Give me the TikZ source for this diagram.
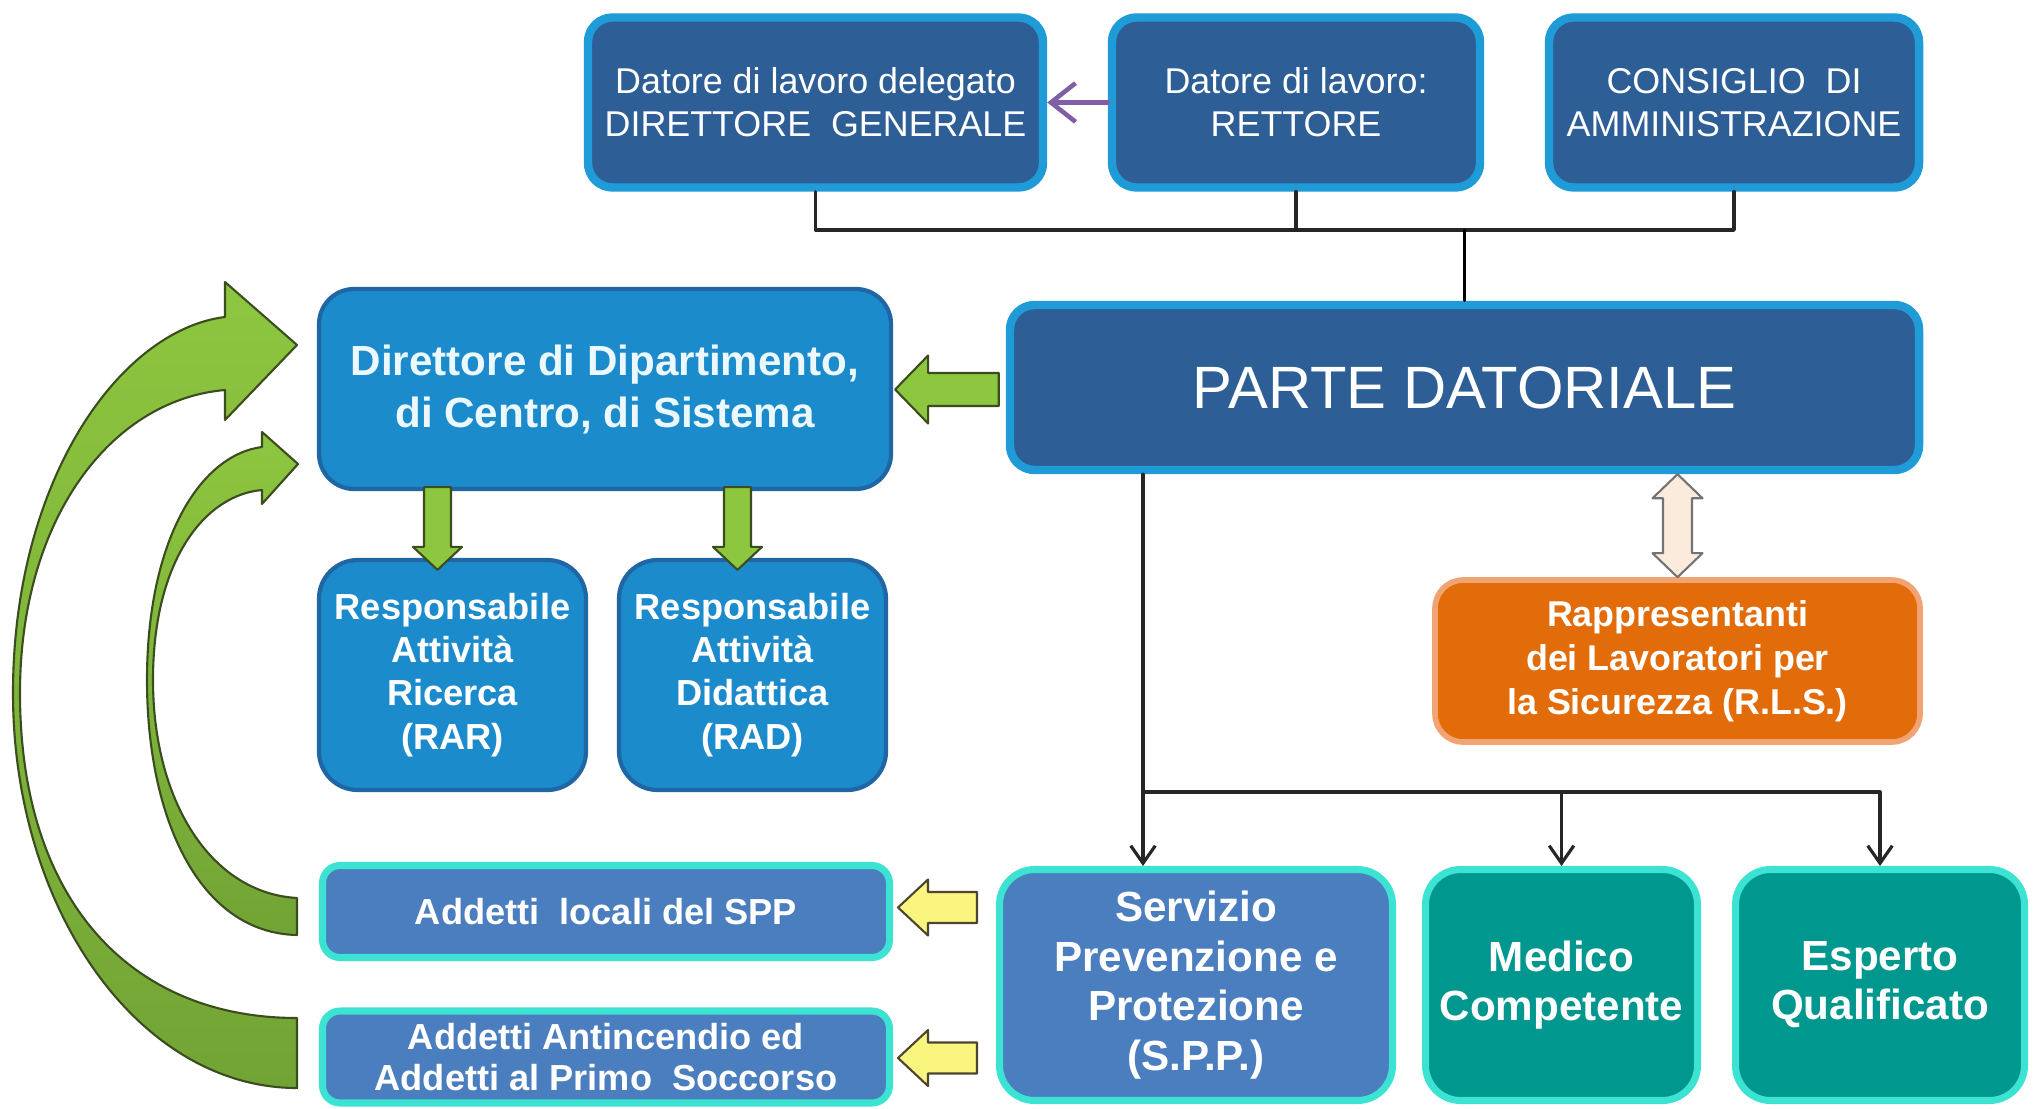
\documentclass[tikz,border=0pt]{standalone}
\usepackage{fontspec}
\setmainfont{Liberation Sans}
\usepackage{tikz}
\usetikzlibrary{calc}
\usetikzlibrary{arrows.meta}
\usetikzlibrary{positioning}

\definecolor{darkbox}{HTML}{2E5E96}
\definecolor{darkrim}{HTML}{1F9BD7}
\definecolor{midbox}{HTML}{1C8BCC}
\definecolor{midrim}{HTML}{2166A4}
\definecolor{sppfill}{HTML}{4A7EBF}
\definecolor{aquarim}{HTML}{3CE2D2}
\definecolor{tealfill}{HTML}{00978F}
\definecolor{rlsfill}{HTML}{E36C0A}
\definecolor{rlsrim}{HTML}{F2A373}
\definecolor{leafgreen}{HTML}{8DC63F}
\definecolor{leafdark}{HTML}{72A435}
\definecolor{leafline}{HTML}{3B4D1F}
\definecolor{paleyellow}{HTML}{FAF57E}
\definecolor{yellowline}{HTML}{4D4530}
\definecolor{peach}{HTML}{FBEBDD}
\definecolor{lilac}{HTML}{7E5FA6}

\begin{document}
\begin{tikzpicture}[line cap=round, line join=round, >={Straight Barb[length=5pt,width=7pt]},
    topbox/.style={draw=darkrim, line width=2.4pt, fill=darkbox, rounded corners=7pt,
      text=white, align=center, inner sep=0pt, font=\fontsize{10.2}{12.2}\selectfont},
    dirbox/.style={draw=midrim, line width=1.2pt, fill=midbox, rounded corners=10pt,
      text=white, align=center, inner sep=0pt, font=\bfseries\fontsize{10.3}{12.3}\selectfont},
    aquabox/.style={draw=aquarim, line width=2pt, fill=sppfill, rounded corners=5pt,
      text=white, align=center, inner sep=0pt, font=\bfseries\fontsize{10.3}{11.8}\selectfont},
    tealbox/.style={aquabox, fill=tealfill, rounded corners=10pt,
      font=\bfseries\fontsize{12}{14}\selectfont},
    rlsbox/.style={draw=rlsrim, line width=1.6pt, fill=rlsfill, rounded corners=8pt,
      text=white, align=center, inner sep=0pt, font=\bfseries\fontsize{10.2}{12.5}\selectfont},
    busline/.style={line width=1pt, draw=black!85},
    conn/.style={line width=0.9pt, draw=black!85},
    blockto/.style n args={3}{to path={
      ($(\tikztostart)!#1!90:(\tikztotarget)$)
      -- ($(\tikztotarget)!#3!(\tikztostart)!#1!90:(\tikztotarget)$)
      -- ($(\tikztotarget)!#3!(\tikztostart)!#2!90:(\tikztotarget)$)
      -- (\tikztotarget)
      -- ($(\tikztotarget)!#3!(\tikztostart)!#2!-90:(\tikztotarget)$)
      -- ($(\tikztotarget)!#3!(\tikztostart)!#1!-90:(\tikztotarget)$)
      -- ($(\tikztostart)!#1!-90:(\tikztotarget)$) -- cycle}},
    dblockto/.style n args={3}{to path={
      (\tikztostart)
      -- ($(\tikztostart)!#3!(\tikztotarget)!#2!90:(\tikztotarget)$)
      -- ($(\tikztostart)!#3!(\tikztotarget)!#1!90:(\tikztotarget)$)
      -- ($(\tikztotarget)!#3!(\tikztostart)!#1!-90:(\tikztostart)$)
      -- ($(\tikztotarget)!#3!(\tikztostart)!#2!-90:(\tikztostart)$)
      -- (\tikztotarget)
      -- ($(\tikztotarget)!#3!(\tikztostart)!#2!90:(\tikztostart)$)
      -- ($(\tikztotarget)!#3!(\tikztostart)!#1!90:(\tikztostart)$)
      -- ($(\tikztostart)!#3!(\tikztotarget)!#1!-90:(\tikztotarget)$)
      -- ($(\tikztostart)!#3!(\tikztotarget)!#2!-90:(\tikztotarget)$) -- cycle}},
    greenblock/.style={blockto={0.165cm}{0.34cm}{0.33cm}, draw=leafline, line width=0.6pt, fill=leafgreen},
    greendown/.style={blockto={0.135cm}{0.245cm}{0.23cm}, draw=leafline, line width=0.6pt, fill=leafgreen},
    yellowblock/.style={blockto={0.155cm}{0.28cm}{0.30cm}, draw=yellowline, line width=0.6pt, fill=paleyellow},
    rlsarrow/.style={dblockto={0.145cm}{0.25cm}{0.24cm}, draw=black!55, line width=0.6pt, fill=peach},
    curvearrow/.style={draw=leafline, line width=0.6pt, top color=leafgreen, bottom color=leafdark}]
  \useasboundingbox (0,0) rectangle (20.36,-11.09);

  %--- Top row
  \node[topbox, minimum width=4.55cm, minimum height=1.70cm] (dg) at (8.155,-1.025)
    {Datore di lavoro delegato\\DIRETTORE\ \ GENERALE};
  \node[topbox, minimum width=3.68cm, minimum height=1.70cm] (rettore) at (12.96,-1.025)
    {Datore di lavoro:\\RETTORE};
  \node[topbox, minimum width=3.70cm, minimum height=1.70cm] (cda) at (17.34,-1.025)
    {CONSIGLIO\ \ DI\\AMMINISTRAZIONE};
  \draw[lilac, line width=1.3pt, -{Straight Barb[length=7pt,width=11pt]}] (rettore.west) -- (dg.east);

  %--- Parte datoriale
  \node[topbox, minimum width=9.09cm, minimum height=1.65cm, font=\fontsize{17}{20}\selectfont] (pd)
    at (14.645,-3.875) {PARTE DATORIALE};
  \coordinate (topbus) at (14.645,-2.30);
  \draw[busline] (dg.south) |- (topbus) -| (cda.south);
  \draw[busline] (rettore.south) -- (rettore.south |- topbus);
  \draw[line width=0.7pt] (topbus) -- (pd.north);

  %--- Direttore, RAR, RAD
  \node[dirbox, minimum width=5.72cm, minimum height=2.00cm, text=cyan!8,
    font=\bfseries\fontsize{12}{14.8}\selectfont] (dir) at (6.05,-3.89)
    {Direttore di Dipartimento,\\di Centro, di Sistema};
  \node[dirbox, minimum width=2.67cm, minimum height=2.30cm, rounded corners=11pt] (rar) at (4.525,-6.75)
    {Responsabile\\Attività\\Ricerca\\(RAR)};
  \node[dirbox, minimum width=2.67cm, minimum height=2.30cm, rounded corners=11pt] (rad) at (7.525,-6.75)
    {Responsabile\\Attività\\Didattica\\(RAD)};

  %--- RLS
  \node[rlsbox, minimum width=4.85cm, minimum height=1.62cm] (rls) at (16.775,-6.61)
    {Rappresentanti\\dei Lavoratori per\\la Sicurezza (R.L.S.)};

  %--- SPP, Medico, Esperto
  \node[aquabox, minimum width=3.93cm, minimum height=2.31cm, rounded corners=10pt,
    font=\bfseries\fontsize{12}{14.1}\selectfont] (spp) at (11.96,-9.85)
    {Servizio\\Prevenzione e\\Protezione\\(S.P.P.)};
  \node[tealbox, minimum width=2.72cm, minimum height=2.31cm] (medico) at (15.615,-9.85)
    {Medico\\Competente};
  \node[tealbox, minimum width=2.89cm, minimum height=2.31cm] (esperto) at (18.80,-9.85)
    {Esperto\\Qualificato};
  \coordinate (sppbus) at (11.43,-7.92);
  \draw[conn, ->] (pd.south -| sppbus) -- (spp.north -| sppbus);
  \draw[conn, ->] (sppbus) -| (medico.north);
  \draw[conn, ->] (sppbus) -| (esperto.north);

  %--- Addetti
  \node[aquabox, minimum width=5.67cm, minimum height=0.92cm] (locali) at (6.06,-9.115)
    {Addetti\ \ locali del SPP};
  \node[aquabox, minimum width=5.67cm, minimum height=0.92cm] (antinc) at (6.06,-10.57)
    {Addetti Antincendio ed\\Addetti al Primo\ \ Soccorso};

  %--- Block arrows
  \coordinate (pdtail) at ($(pd.west)+(-0.07,-0.02)$);
  \coordinate (dirtip) at ($(dir.east |- pdtail)+(0.02,0)$);
  \draw[greenblock] (pdtail) to (dirtip);
  \coordinate (rartail) at ($(dir.south -| rar.north)+(-0.15,0.04)$);
  \coordinate (rartip) at ($(rar.north)+(-0.15,-0.12)$);
  \draw[greendown] (rartail) to (rartip);
  \coordinate (radtail) at ($(dir.south -| rad.north)+(-0.15,0.04)$);
  \coordinate (radtip) at ($(rad.north)+(-0.15,-0.12)$);
  \draw[greendown] (radtail) to (radtip);
  \coordinate (spptail1) at ($(spp.west |- locali.east)+(-0.19,0.04)$);
  \coordinate (localitip) at ($(locali.east)+(0.05,0.04)$);
  \draw[yellowblock] (spptail1) to (localitip);
  \coordinate (spptail2) at ($(spp.west |- antinc.east)+(-0.19,-0.01)$);
  \coordinate (antinctip) at ($(antinc.east)+(0.05,-0.01)$);
  \draw[yellowblock] (spptail2) to (antinctip);
  \coordinate (rlstop) at (rls.north |- pd.south);
  \draw[rlsarrow] (rlstop) to (rls.north);

  %--- Curved arrows back to Direttore
  \draw[curvearrow] (2.97,-10.18)
    .. controls (1.30,-10.18) and (0.20,-9.00) .. (0.20,-6.93)
    .. controls (0.20,-5.20) and (1.10,-4.00) .. (2.25,-3.90)
    -- (2.25,-4.20) -- (2.97,-3.45) -- (2.25,-2.82) -- (2.25,-3.17)
    .. controls (1.20,-3.30) and (0.13,-4.80) .. (0.13,-6.93)
    .. controls (0.13,-9.11) and (1.40,-10.88) .. (2.97,-10.88) -- cycle;
  \draw[curvearrow] (2.97,-8.98)
    .. controls (2.10,-8.93) and (1.53,-8.00) .. (1.53,-6.80)
    .. controls (1.53,-5.60) and (2.05,-4.95) .. (2.62,-4.90)
    -- (2.62,-5.04) -- (2.98,-4.64) -- (2.62,-4.32) -- (2.62,-4.47)
    .. controls (2.00,-4.55) and (1.47,-5.40) .. (1.47,-6.80)
    .. controls (1.47,-8.20) and (2.00,-9.33) .. (2.97,-9.35) -- cycle;
\end{tikzpicture}
\end{document}
